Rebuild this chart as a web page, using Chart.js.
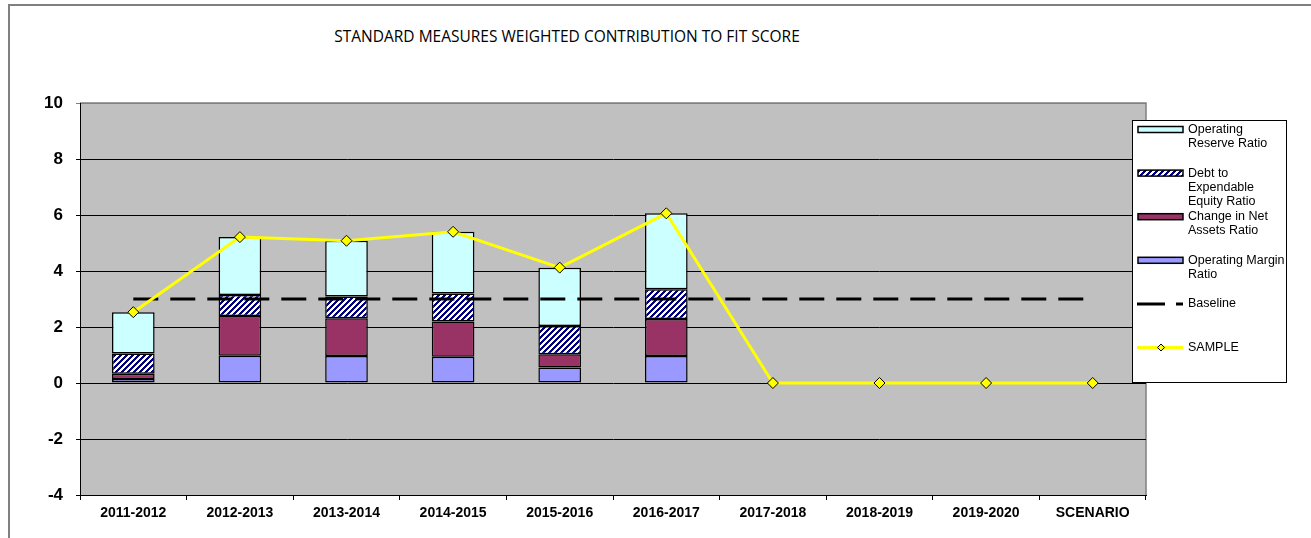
<!DOCTYPE html>
<html>
<head>
<meta charset="utf-8">
<title>Standard measures weighted contribution to fit score</title>
<script src="https://cdn.jsdelivr.net/npm/chart.js@4"></script>
<style>
  html, body { margin: 0; padding: 0; background: #fff; }
  #wrap { position: relative; width: 1311px; height: 538px; overflow: hidden; }
  #frame { position: absolute; left: 8px; top: 4px; width: 1400px; height: 600px;
           border-left: 2px solid #808080; border-top: 2px solid #808080; }
  #title { position: absolute; left: 567px; top: 26px; transform: translateX(-50%);
           font: 15.5px 'Open Sans', sans-serif; line-height: 20px; color: #000; white-space: nowrap; }
  #chart { position: absolute; left: 0; top: 0; }
</style>
</head>
<body>
<div id="wrap">
  <div id="frame"></div>
  <div id="title">STANDARD MEASURES WEIGHTED CONTRIBUTION TO FIT SCORE</div>
  <canvas id="chart" width="1311" height="538"></canvas>
</div>
<script>
const categories = ['2011-2012', '2012-2013', '2013-2014', '2014-2015', '2015-2016',
  '2016-2017', '2017-2018', '2018-2019', '2019-2020', 'SCENARIO'];

// stacked components, bottom to top
const operatingMargin = [0.14, 0.97, 0.96, 0.94, 0.55, 0.96, null, null, null, null];
const changeInNetAssets = [0.19, 1.42, 1.35, 1.26, 0.48, 1.33, null, null, null, null];
const debtToEquity = [0.72, 0.75, 0.78, 1.00, 1.01, 1.06, null, null, null, null];
const operatingReserve = [1.48, 2.07, 1.99, 2.20, 2.08, 2.71, null, null, null, null];

const sample = [2.53, 5.21, 5.08, 5.40, 4.12, 6.06, 0, 0, 0, 0];
const baseline = [3, 3, 3, 3, 3, 3, 3, 3, 3, 3];

const yTicks = [-4, -2, 0, 2, 4, 6, 8, 10];

const FONT = "Arial, 'Liberation Sans', sans-serif";

const canvas = document.getElementById('chart');
const ctx = canvas.getContext('2d');

// navy / white diagonal hatch for the debt ratio
function makeHatch() {
  const tile = document.createElement('canvas');
  tile.width = 6;
  tile.height = 6;
  const g = tile.getContext('2d');
  g.fillStyle = '#ffffff';
  g.fillRect(0, 0, 6, 6);
  g.fillStyle = '#000080';
  for (let x = 0; x < 6; x++) {
    for (let y = 0; y < 6; y++) {
      if ((x + y) % 6 < 3) g.fillRect(x, y, 1, 1);
    }
  }
  return ctx.createPattern(tile, 'repeat');
}
const hatch = makeHatch();

// grey plot area with a grey frame on the top and right
const plotBackground = {
  id: 'plotBackground',
  beforeDraw(chart) {
    const { ctx, chartArea: a } = chart;
    ctx.save();
    ctx.fillStyle = '#C0C0C0';
    ctx.fillRect(a.left, a.top, a.right - a.left, a.bottom - a.top);
    ctx.strokeStyle = '#808080';
    ctx.lineWidth = 1.5;
    ctx.beginPath();
    ctx.moveTo(a.left, a.top);
    ctx.lineTo(a.right, a.top);
    ctx.lineTo(a.right, a.bottom);
    ctx.stroke();
    ctx.restore();
  }
};

// boxed legend on the right with wrapped labels
const legendEntries = [
  { lines: ['Operating', 'Reserve Ratio'], kind: 'box', fill: '#CCFFFF' },
  { lines: ['Debt to', 'Expendable', 'Equity Ratio'], kind: 'box', fill: hatch },
  { lines: ['Change in Net', 'Assets Ratio'], kind: 'box', fill: '#993366' },
  { lines: ['Operating Margin', 'Ratio'], kind: 'box', fill: '#9999FF' },
  { lines: ['Baseline'], kind: 'dash' },
  { lines: ['SAMPLE'], kind: 'marker' }
];

const legendBox = {
  id: 'legendBox',
  afterDraw(chart) {
    const c = chart.ctx;
    const left = 1132, top = 120, width = 154, height = 262;
    c.save();
    c.fillStyle = '#fff';
    c.fillRect(left, top, width, height);
    c.strokeStyle = '#000';
    c.lineWidth = 1;
    c.strokeRect(left + 0.5, top + 0.5, width, height);

    c.font = '12.5px ' + FONT;
    c.textBaseline = 'middle';
    legendEntries.forEach((e, i) => {
      const cy = top + 9.5 + i * 43.6;
      if (e.kind === 'box') {
        c.fillStyle = e.fill;
        c.fillRect(1138, cy - 3, 45, 6);
        c.lineWidth = 1.5;
        c.strokeStyle = '#000';
        c.strokeRect(1138, cy - 3, 45, 6);
      } else if (e.kind === 'dash') {
        c.strokeStyle = '#000';
        c.lineWidth = 3;
        c.beginPath();
        c.moveTo(1137, cy); c.lineTo(1165, cy);
        c.moveTo(1176, cy); c.lineTo(1183, cy);
        c.stroke();
      } else {
        c.strokeStyle = '#FFFF00';
        c.lineWidth = 3;
        c.beginPath();
        c.moveTo(1137, cy); c.lineTo(1183, cy);
        c.stroke();
        c.fillStyle = '#FFFF00';
        c.strokeStyle = '#000';
        c.lineWidth = 1;
        c.beginPath();
        c.moveTo(1161, cy - 3.5); c.lineTo(1164.5, cy);
        c.lineTo(1161, cy + 3.5); c.lineTo(1157.5, cy);
        c.closePath();
        c.fill();
        c.stroke();
      }
      c.fillStyle = '#000';
      e.lines.forEach((t, k) => c.fillText(t, 1188, cy + k * 14));
    });
    c.restore();
  }
};

new Chart(ctx, {
  type: 'bar',
  data: {
    labels: categories,
    datasets: [
      {
        type: 'line',
        label: 'SAMPLE',
        data: sample,
        stack: 'sample',
        order: 0,
        borderColor: '#FFFF00',
        borderWidth: 3,
        tension: 0,
        pointStyle: 'rectRot',
        pointRadius: 5.5,
        pointBackgroundColor: '#FFFF00',
        pointBorderColor: '#000',
        pointBorderWidth: 1
      },
      {
        type: 'line',
        label: 'Baseline',
        data: baseline,
        stack: 'baseline',
        order: 1,
        borderColor: '#000',
        borderWidth: 3,
        borderDash: [25, 12],
        pointRadius: 0
      },
      { label: 'Operating Margin Ratio', data: operatingMargin, backgroundColor: '#9999FF', stack: 'bars', order: 2 },
      { label: 'Change in Net Assets Ratio', data: changeInNetAssets, backgroundColor: '#993366', stack: 'bars', order: 2 },
      { label: 'Debt to Expendable Equity Ratio', data: debtToEquity, backgroundColor: hatch, stack: 'bars', order: 2 },
      { label: 'Operating Reserve Ratio', data: operatingReserve, backgroundColor: '#CCFFFF', stack: 'bars', order: 2 }
    ]
  },
  options: {
    responsive: false,
    animation: false,
    layout: { padding: { left: 8, top: 103, right: 165, bottom: 16 } },
    datasets: {
      bar: {
        borderColor: '#000',
        borderWidth: 1.5,
        borderSkipped: false,
        barPercentage: 0.4,
        categoryPercentage: 1
      }
    },
    plugins: {
      legend: { display: false },
      tooltip: { enabled: false },
      title: { display: false }
    },
    scales: {
      x: {
        stacked: true,
        grid: { drawOnChartArea: false, offset: true, tickLength: 5, color: '#000' },
        border: { color: '#000', width: 1 },
        ticks: {
          color: '#000',
          padding: 5,
          maxRotation: 0,
          autoSkip: false,
          font: { family: FONT, size: 14, weight: 'bold' }
        },
        afterFit(scale) { scale.height = 27; }
      },
      y: {
        stacked: true,
        min: yTicks[0],
        max: yTicks[yTicks.length - 1],
        afterBuildTicks(scale) { scale.ticks = yTicks.map(v => ({ value: v })); },
        grid: {
          tickLength: 4,
          color: c => (c.tick && c.tick.value === 10 ? '#808080' : '#000')
        },
        border: { color: '#000', width: 1 },
        ticks: {
          color: '#000',
          padding: 13,
          font: { family: FONT, size: 17, weight: 'bold' }
        },
        afterFit(scale) { scale.width = 72; }
      }
    }
  },
  plugins: [plotBackground, legendBox]
});
</script>
</body>
</html>
